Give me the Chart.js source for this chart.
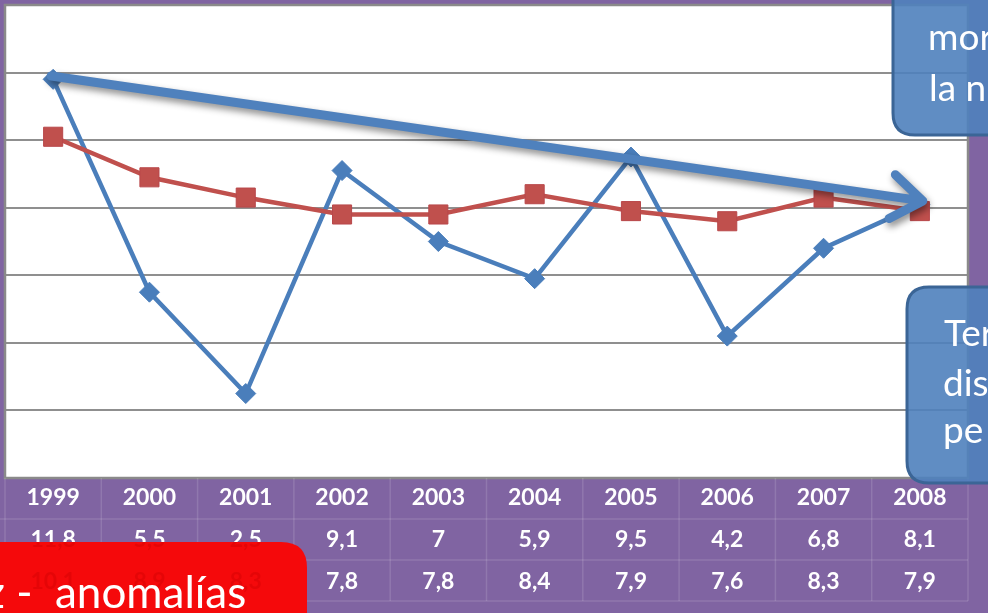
<!DOCTYPE html>
<html>
<head>
<meta charset="utf-8">
<script src="https://cdn.jsdelivr.net/npm/chart.js@4/dist/chart.umd.min.js"></script>
<style>
html,body{margin:0;padding:0;background:#8064A2;overflow:hidden;}
canvas{display:block;}
</style>
</head>
<body>
<canvas id="c" width="988" height="613"></canvas>
<script>
const years = ['1999','2000','2001','2002','2003','2004','2005','2006','2007','2008'];
const serieA = [11.8, 5.5, 2.5, 9.1, 7, 5.9, 9.5, 4.2, 6.8, 8.1];
const serieB = [10.1, 8.9, 8.3, 7.8, 7.8, 8.4, 7.9, 7.6, 8.3, 7.9];
const trendArrow = [11.9, 8.2];           // start (1999) and end (2008) of the trend arrow
const yRange = [0, 14];
const yStep = 2;
const calloutTop = ['mor', 'la n'];
const calloutBottom = ['Ter', 'dis', 'pe'];
const redNote = 'z -  anomalías';

const fmt = v => String(v).replace('.', ',');

function roundRect(ctx, x, y, w, h, r) {
  ctx.beginPath();
  ctx.moveTo(x + r, y);
  ctx.lineTo(x + w - r, y);
  ctx.quadraticCurveTo(x + w, y, x + w, y + r);
  ctx.lineTo(x + w, y + h - r);
  ctx.quadraticCurveTo(x + w, y + h, x + w - r, y + h);
  ctx.lineTo(x + r, y + h);
  ctx.quadraticCurveTo(x, y + h, x, y + h - r);
  ctx.lineTo(x, y + r);
  ctx.quadraticCurveTo(x, y, x + r, y);
  ctx.closePath();
}

const decor = {
  id: 'decor',
  beforeDraw(chart) {
    const ctx = chart.ctx, a = chart.chartArea;
    ctx.save();
    ctx.fillStyle = '#8064A2';
    ctx.fillRect(0, 0, chart.width, chart.height);
    ctx.fillStyle = '#ffffff';
    ctx.fillRect(a.left, a.top, a.right - a.left, a.bottom - a.top);
    ctx.restore();
  },
  afterDraw(chart) {
    const ctx = chart.ctx, a = chart.chartArea;
    const xs = chart.scales.x, ys = chart.scales.y;
    ctx.save();
    // plot border
    ctx.strokeStyle = '#8a8a8a';
    ctx.lineWidth = 2.5;
    ctx.strokeRect(a.left, a.top, a.right - a.left, a.bottom - a.top);

    // trend arrow
    const x0 = xs.getPixelForValue(0) - 2, y0 = ys.getPixelForValue(trendArrow[0]);
    const x1 = xs.getPixelForValue(years.length - 1) + 3, y1 = ys.getPixelForValue(trendArrow[1]);
    const ang = Math.atan2(y1 - y0, x1 - x0);
    ctx.save();
    ctx.shadowColor = 'rgba(0,0,0,0.45)';
    ctx.shadowBlur = 7;
    ctx.shadowOffsetX = 2;
    ctx.shadowOffsetY = 4;
    ctx.strokeStyle = '#4F81BD';
    ctx.lineWidth = 9;
    ctx.lineCap = 'round';
    ctx.lineJoin = 'round';
    ctx.beginPath();
    ctx.moveTo(x0, y0);
    ctx.lineTo(x1 - 4 * Math.cos(ang), y1 - 4 * Math.sin(ang));
    const wl = 38, wa = 0.62;
    ctx.moveTo(x1 - wl * Math.cos(ang - wa), y1 - wl * Math.sin(ang - wa));
    ctx.lineTo(x1, y1);
    ctx.lineTo(x1 - wl * Math.cos(ang + wa), y1 - wl * Math.sin(ang + wa));
    ctx.stroke();
    ctx.restore();

    // data table
    const cw = xs.getPixelForValue(1) - xs.getPixelForValue(0);
    const rowLines = [a.bottom, 519, 560, 601];
    ctx.strokeStyle = 'rgba(255,255,255,0.13)';
    ctx.lineWidth = 1.5;
    rowLines.slice(1).forEach(y => { ctx.beginPath(); ctx.moveTo(0, y); ctx.lineTo(a.right, y); ctx.stroke(); });
    for (let i = 0; i <= years.length; i++) {
      const x = a.left + i * cw;
      ctx.beginPath(); ctx.moveTo(x, a.bottom); ctx.lineTo(x, 601); ctx.stroke();
    }
    const rows = [years, serieA.map(fmt), serieB.map(fmt)];
    const rowY = [498, 540, 582];
    ctx.font = 'bold 23px Lato';
    ctx.textAlign = 'center';
    ctx.textBaseline = 'middle';
    ctx.fillStyle = '#ffffff';
    rows.forEach((r, ri) => r.forEach((t, i) => ctx.fillText(t, xs.getPixelForValue(i), rowY[ri])));

    // top-right callout
    ctx.save();
    roundRect(ctx, 893, -40, 140, 175, 22);
    ctx.fillStyle = 'rgba(79,129,189,0.9)';
    ctx.fill();
    ctx.strokeStyle = '#3B6596';
    ctx.lineWidth = 3;
    ctx.stroke();
    ctx.fillStyle = '#ffffff';
    ctx.font = '37px Lato';
    ctx.textAlign = 'left';
    ctx.textBaseline = 'alphabetic';
    ctx.fillText(calloutTop[0], 928, 50);
    ctx.fillText(calloutTop[1], 929, 101);
    ctx.restore();

    // bottom-right callout
    ctx.save();
    roundRect(ctx, 907, 287, 140, 196, 22);
    ctx.fillStyle = 'rgba(79,129,189,0.9)';
    ctx.fill();
    ctx.strokeStyle = '#3B6596';
    ctx.lineWidth = 3;
    ctx.stroke();
    ctx.fillStyle = '#ffffff';
    ctx.font = '37px Lato';
    ctx.textAlign = 'left';
    ctx.textBaseline = 'alphabetic';
    ctx.fillText(calloutBottom[0], 944, 346);
    ctx.fillText(calloutBottom[1], 943, 396);
    ctx.fillText(calloutBottom[2], 943, 443);
    ctx.restore();

    // red note box
    ctx.save();
    roundRect(ctx, -40, 542, 347, 110, 26);
    ctx.fillStyle = '#F5090B';
    ctx.fill();
    ctx.clip();
    ctx.font = 'bold 23px Lato';
    ctx.textAlign = 'center';
    ctx.textBaseline = 'middle';
    ctx.fillStyle = 'rgba(200,0,0,0.35)';
    rows.forEach((r, ri) => r.forEach((t, i) => ctx.fillText(t, xs.getPixelForValue(i), rowY[ri])));
    ctx.font = '44px Lato';
    ctx.textAlign = 'left';
    ctx.textBaseline = 'alphabetic';
    ctx.fillStyle = '#ffffff';
    const pre = ctx.measureText('z -  ').width;
    ctx.fillText(redNote, 55 - pre, 608);
    ctx.restore();

    ctx.restore();
  }
};

new Chart(document.getElementById('c'), {
  type: 'line',
  data: {
    labels: years,
    datasets: [
      {
        data: serieB,
        borderColor: '#C0504D',
        backgroundColor: '#C0504D',
        pointBorderColor: '#B8474A',
        borderWidth: 4.5,
        pointStyle: 'rect',
        pointRadius: 13.5,
        pointBorderWidth: 1,
        tension: 0
      },
      {
        data: serieA,
        borderColor: '#4A7EBB',
        backgroundColor: '#4A7EBB',
        pointBorderColor: '#4A7EBB',
        borderWidth: 4.5,
        pointStyle: 'rectRot',
        pointRadius: 10,
        pointBorderWidth: 1,
        tension: 0
      }
    ]
  },
  options: {
    responsive: false,
    animation: false,
    devicePixelRatio: 1,
    layout: { autoPadding: false, padding: { left: 5, top: 5, right: 20, bottom: 135 } },
    plugins: { legend: { display: false }, tooltip: { enabled: false } },
    scales: {
      x: { display: false, offset: true },
      y: {
        min: yRange[0], max: yRange[1],
        ticks: { display: false, stepSize: yStep },
        grid: { color: '#8f8f8f', lineWidth: 2, drawTicks: false },
        border: { display: false },
        afterFit(s) { s.width = 0; }
      }
    }
  },
  plugins: [decor]
});
</script>
</body>
</html>
